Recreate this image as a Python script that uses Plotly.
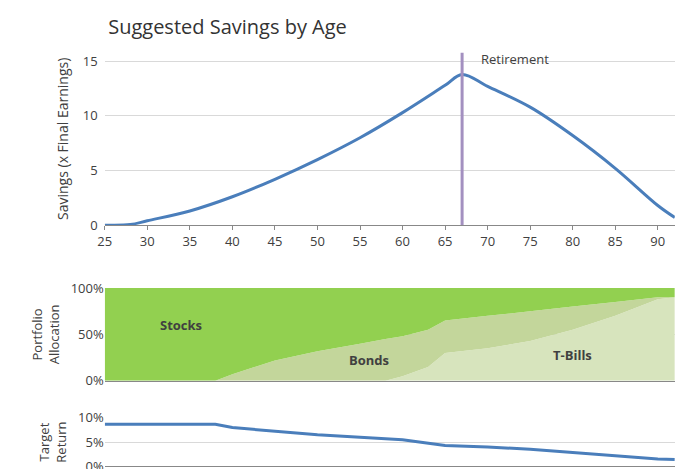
import plotly.graph_objects as go

ages = [25, 28, 30, 35, 40, 45, 50, 55, 60, 65, 67, 70, 75, 80, 85, 90, 92]
savings = [0, 0.05, 0.4, 1.3, 2.6, 4.2, 6.0, 8.0, 10.3, 12.8, 13.8, 12.7, 10.8, 8.2, 5.2, 1.8, 0.7]

alloc_ages = [25, 38, 40, 45, 50, 55, 58, 60, 63, 65, 70, 75, 80, 85, 90, 92]
tbills = [0, 0, 0, 0, 0, 0, 0, 5, 15, 30, 35, 43, 55, 70, 88, 90]
bonds_top = [0, 0, 7, 22, 32, 40, 45, 48, 55, 65, 70, 75, 80, 85, 90, 90]
bonds = [b - t for b, t in zip(bonds_top, tbills)]
stocks = [100 - b for b in bonds_top]

ret_ages = [25, 38, 40, 45, 50, 55, 60, 65, 70, 75, 80, 85, 90, 92]
target = [8.7, 8.7, 8.0, 7.2, 6.5, 6.0, 5.5, 4.3, 4.0, 3.5, 2.8, 2.2, 1.5, 1.4]

pct_vals = [0, 50, 100]
pct_text = ["0%", "50%", "100%"]
ret_vals = [0, 5, 10]
ret_text = ["0%", "5%", "10%"]

blue = "#4a7ebb"
fig = go.Figure()
fig.add_trace(go.Scatter(x=ages, y=savings, mode="lines", line=dict(color=blue, width=3, shape="spline"), xaxis="x", yaxis="y"))
fig.add_trace(go.Scatter(x=alloc_ages, y=tbills, stackgroup="a", mode="none", fillcolor="#d7e4bd", xaxis="x2", yaxis="y2"))
fig.add_trace(go.Scatter(x=alloc_ages, y=bonds, stackgroup="a", mode="none", fillcolor="#c3d69b", xaxis="x2", yaxis="y2"))
fig.add_trace(go.Scatter(x=alloc_ages, y=stocks, stackgroup="a", mode="none", fillcolor="#92d050", xaxis="x2", yaxis="y2"))
fig.add_trace(go.Scatter(x=ret_ages, y=target, mode="lines", line=dict(color=blue, width=3), xaxis="x3", yaxis="y3"))

fig.update_layout(
    width=691, height=469, showlegend=False, plot_bgcolor="white", paper_bgcolor="white",
    margin=dict(l=0, r=0, t=0, b=0), font=dict(family="Open Sans, sans-serif", size=13, color="#404040"),
    title=dict(text="Suggested Savings by Age", x=0.145, y=0.975, font=dict(size=20, color="#333")),
    xaxis=dict(domain=[0.14, 0.965], range=[25, 92], dtick=5, showgrid=False, showline=True, linecolor="#888",
               ticks="outside", ticklen=4, tickcolor="#888", automargin=False),
    yaxis=dict(domain=[0.537, 0.905], range=[0, 15.8], dtick=5, showgrid=True, gridcolor="#d9d9d9", zeroline=False,
               automargin=False, ticklabelstandoff=6, title=dict(text="Savings (x Final Earnings)", font=dict(size=14), standoff=10)),
    xaxis2=dict(domain=[0.14, 0.965], range=[25, 92], anchor="y2", showticklabels=False, showgrid=False,
                showline=True, linecolor="#888", automargin=False),
    yaxis2=dict(domain=[0.205, 0.403], range=[0, 100], tickvals=pct_vals, ticktext=pct_text, anchor="x2",
                automargin=False, showgrid=True, gridcolor="#d9d9d9",
                title=dict(text="Portfolio<br>Allocation", font=dict(size=13), standoff=8)),
    xaxis3=dict(domain=[0.14, 0.965], range=[25, 92], anchor="y3", showticklabels=False, showgrid=False,
                showline=True, linecolor="#888", automargin=False),
    yaxis3=dict(domain=[0.023, 0.126], range=[0, 10], tickvals=ret_vals, ticktext=ret_text, anchor="x3",
                automargin=False, showgrid=True, gridcolor="#d9d9d9", zeroline=False,
                title=dict(text="Target<br>Return", font=dict(size=13), standoff=8)),
    shapes=[dict(type="line", xref="x", yref="y", x0=67, x1=67, y0=0, y1=15.8, line=dict(color="#a390c0", width=3))],
    annotations=[
        dict(text="Retirement", x=69, y=15.2, xref="x", yref="y", showarrow=False, xanchor="left", font=dict(size=13)),
        dict(text="<b>Stocks</b>", x=34, y=60, xref="x2", yref="y2", showarrow=False, font=dict(size=13)),
        dict(text="<b>Bonds</b>", x=56, y=22, xref="x2", yref="y2", showarrow=False, font=dict(size=13)),
        dict(text="<b>T-Bills</b>", x=80, y=28, xref="x2", yref="y2", showarrow=False, font=dict(size=13)),
    ],
)
fig.write_html("out.html")
